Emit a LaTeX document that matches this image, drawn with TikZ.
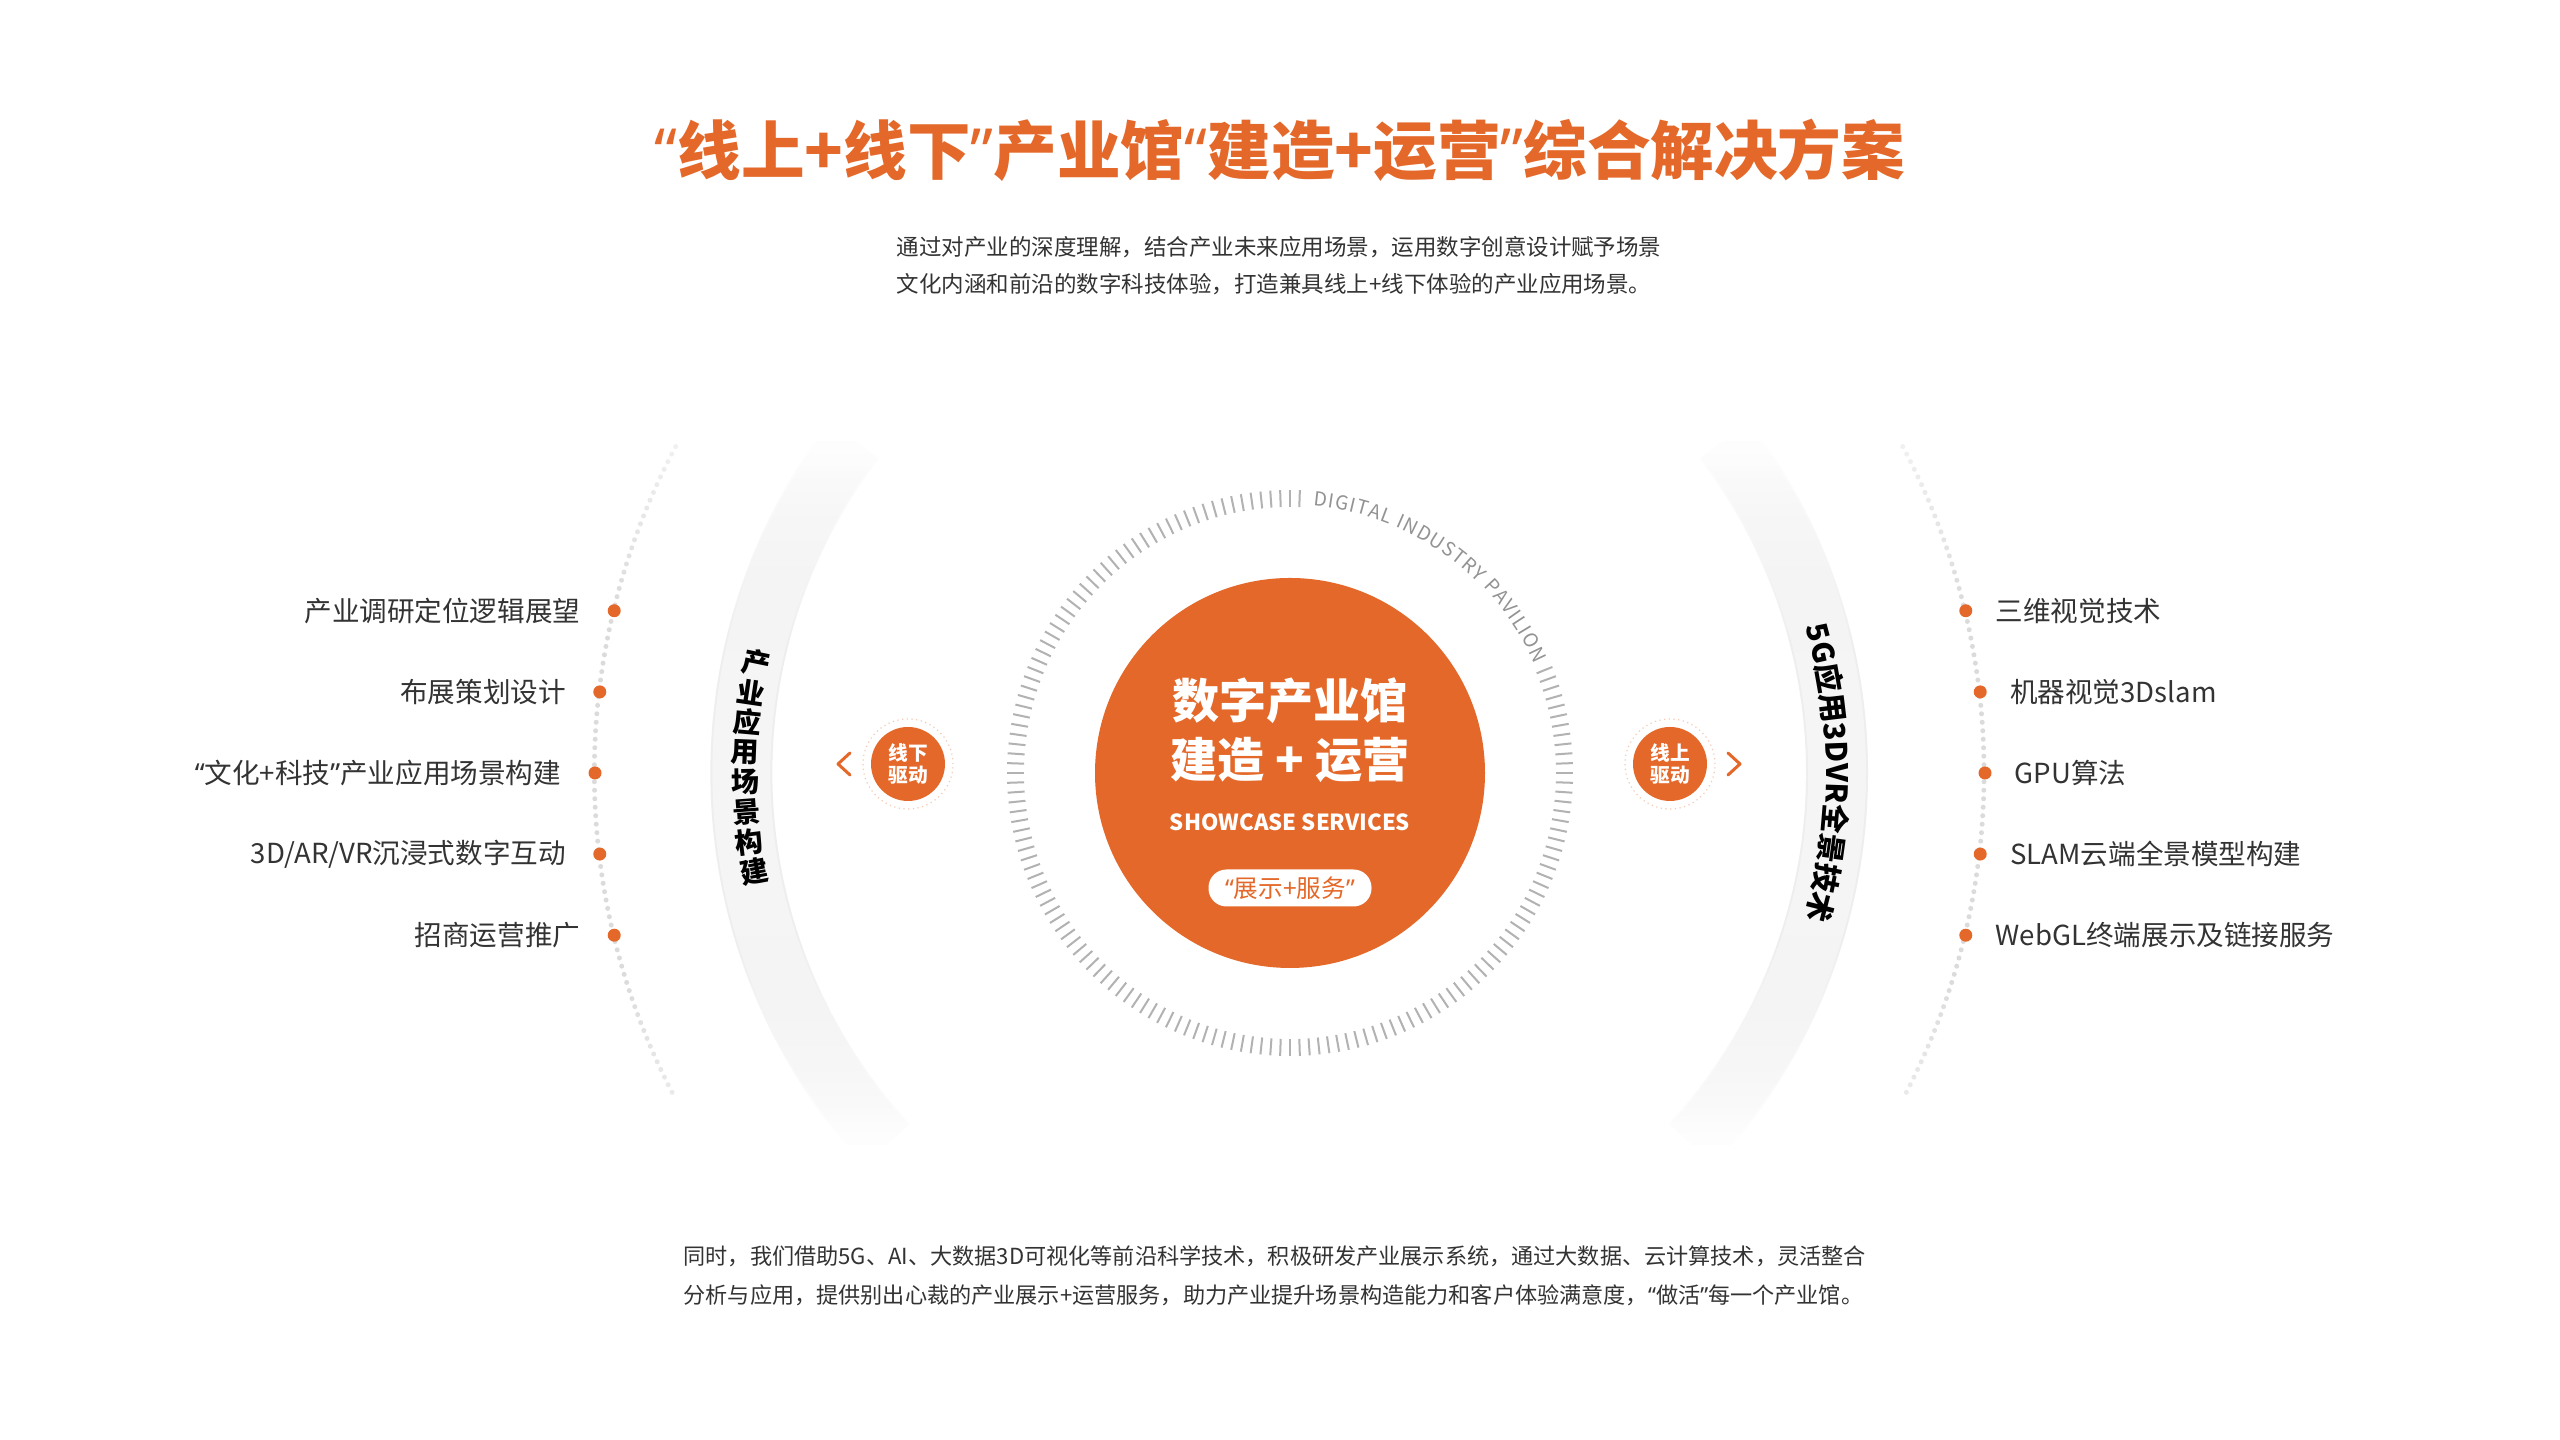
\documentclass[tikz,border=0pt]{standalone}
\usepackage{fontspec}
\setmainfont{Noto Sans CJK SC}
\newfontfamily\quotefont{Noto Sans}
\newcommand\openq{{\quotefont “}}
\newcommand\closeq{{\quotefont ”}}
\usetikzlibrary{positioning, calc, fadings, decorations.text}
\definecolor{brand}{RGB}{228,104,41}
\definecolor{ink}{RGB}{51,51,51}
\pgfdeclareverticalshading{endshade}{100bp}{color(0bp)=(black); color(30bp)=(white); color(70bp)=(white); color(100bp)=(black)}
\pgfdeclarefading{endfade}{\pgfuseshading{endshade}}

\begin{document}
\begin{tikzpicture}[x=0.1mm, y=0.1mm,
  fadeout/.style={path fading=endfade, fit fading=false, fading transform={shift={(1290,647)}, xscale=20, yscale=#1}},
  core/.style={circle, fill=brand, minimum size=39mm, inner sep=0pt},
  tickmark/.style={gray!60, line width=0.2mm},
  bandedge/.style={gray!13, line width=6.2mm},
  band/.style={gray!8, line width=5.8mm},
  dotarc/.style={gray!28, line width=0.5mm, line cap=round, dash pattern=on 0pt off 0.85mm},
  bullet/.style={circle, fill=brand, minimum size=1.3mm, inner sep=0pt},
  item/.style={font=\fontsize{7.85}{9}\selectfont, text=ink, inner sep=0pt},
  sidelabel/.style={font=\bfseries\fontsize{8}{9}\selectfont, inner sep=0pt},
  bubble/.style={circle, fill=brand, minimum size=7.4mm, inner sep=0pt, text=white, align=center, font=\bfseries\fontsize{5.6}{6.4}\selectfont},
  halo/.style={circle, draw=brand!35, densely dotted, line width=0.12mm, minimum size=9mm},
  chevron/.style={brand, line width=0.3mm, line cap=round, line join=round},
  pill/.style={rounded corners=1.8mm, fill=white, minimum width=16.3mm, minimum height=3.7mm, inner sep=0pt, text=brand, font=\fontsize{7}{8}\selectfont},
  copy/.style={align=left, text=ink, inner sep=0pt}]
\useasboundingbox[fill=white] (0,0) rectangle (2560,1440);
\coordinate (C) at (1290,667);

\node[text=brand, font=\bfseries\fontsize{18.1}{21}\selectfont] (title) at (1280,1290) {\openq{}线上+线下\closeq{}产业馆\openq{}建造+运营\closeq{}综合解决方案};
\node[copy, anchor=west, font=\fontsize{6.4}{10.5}\selectfont] (intro) at (896,1174) {通过对产业的深度理解，结合产业未来应用场景，运用数字创意设计赋予场景\\文化内涵和前沿的数字科技体验，打造兼具线上+线下体验的产业应用场景。};

\begin{scope}
\clip (0,295) rectangle (2560,1000);
\foreach \s in {bandedge, band} {
  \draw[\s, fadeout=2] ($(C)+(142.6:548)$) arc[start angle=142.6, end angle=222.7, radius=548];
  \draw[\s, fadeout=2] ($(C)+(37.4:548)$) arc[start angle=37.4, end angle=-42.7, radius=548];
}
\end{scope}
\draw[dotarc, fadeout=2.6] ($(C)+(152:695)$) arc[start angle=152, end angle=208, radius=695];
\draw[dotarc, fadeout=2.6] ($(C)+(28:695)$) arc[start angle=28, end angle=-28, radius=695];

\foreach \a in {88,90,...,382}
  \draw[tickmark] ($(C)+(\a:266)$) -- ($(C)+(\a:283)$);
\path[decorate, decoration={text along path, text align=fit to path, text color=gray!85,
  text={|\fontsize{5.5}{6}\selectfont|DIGITAL INDUSTRY PAVILION}}]
  ($(C)+(85:268)$) arc[start angle=85, end angle=24, radius=268];

\node[core] (core) at (C) {};
\node[text=white, align=center, font=\bfseries\fontsize{13.4}{16.8}\selectfont] (coretitle) at ($(C)+(0,43)$) {数字产业馆\\建造 + 运营};
\node[text=white, font=\bfseries\fontsize{6.3}{7.5}\selectfont] (tagline) at ($(C)+(0,-49)$) {SHOWCASE SERVICES};
\node[pill] (service) at ($(C)+(0,-115)$) {\openq{}展示+服务\closeq};

\node[bubble] (offline) at ($(C)+(-382,9)$) {线下\\驱动};
\node[halo] (offhalo) at (offline) {};
\coordinate[left=6.4mm of offline.center] (offarrow);
\draw[chevron] ([shift={(6,11)}]offarrow) -- ([shift={(-6,0)}]offarrow) -- ([shift={(6,-11)}]offarrow);
\node[bubble] (online) at ($(C)+(380,9)$) {线上\\驱动};
\node[halo] (onhalo) at (online) {};
\coordinate[right=6.4mm of online.center] (onarrow);
\draw[chevron] ([shift={(-6,11)}]onarrow) -- ([shift={(6,0)}]onarrow) -- ([shift={(-6,-11)}]onarrow);

\foreach \ch [count=\i] in {产,业,应,用,场,景,构,建} {
  \pgfmathsetmacro\a{179.4-3.15*(4.5-\i)}
  \node[sidelabel, rotate=\a-180] (side\i) at ($(C)+(\a:545)$) {\ch};
}
\path[decorate, decoration={text along path, text align=center,
  text={|\bfseries\fontsize{8.4}{9}\selectfont|5G应用3DVR全景技术}}]
  ($(C)+(30:536)$) arc[start angle=30, end angle=-30, radius=536];

\foreach \a [count=\i] in {166.5,173.3,180,186.7,193.5}
  \node[bullet] (l\i) at ($(C)+(\a:695)$) {};
\foreach \a [count=\i] in {13.5,6.7,0,-6.7,-13.5}
  \node[bullet] (r\i) at ($(C)+(\a:695)$) {};
\foreach \txt [count=\i] in {产业调研定位逻辑展望, 布展策划设计, \openq{}文化+科技\closeq{}产业应用场景构建, 3D/AR/VR沉浸式数字互动, 招商运营推广}
  \node[item, left=2.6mm of l\i] (ltext\i) {\txt};
\foreach \txt [count=\i] in {三维视觉技术, 机器视觉3Dslam, GPU算法, SLAM云端全景模型构建, WebGL终端展示及链接服务}
  \node[item, right=2.2mm of r\i] (rtext\i) {\txt};

\node[copy, anchor=west, font=\fontsize{6.3}{11.1}\selectfont] (outro) at (683,164) {同时，我们借助5G、AI、大数据3D可视化等前沿科学技术，积极研发产业展示系统，通过大数据、云计算技术，灵活整合\\分析与应用，提供别出心裁的产业展示+运营服务，助力产业提升场景构造能力和客户体验满意度，\openq{}做活\closeq{}每一个产业馆。};
\end{tikzpicture}
\end{document}
